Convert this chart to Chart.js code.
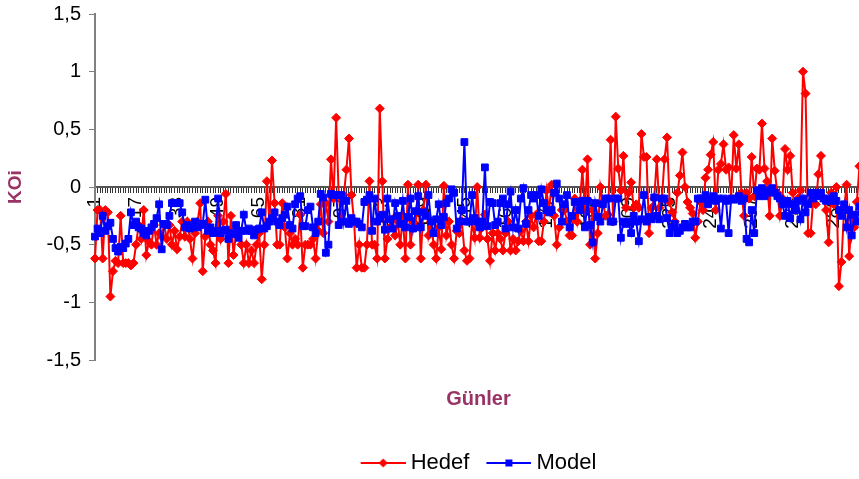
<!DOCTYPE html>
<html>
<head>
<meta charset="utf-8">
<script src="https://cdn.jsdelivr.net/npm/chart.js@4/dist/chart.umd.min.js"></script>
<style>
  html, body { margin: 0; padding: 0; background: #fff; overflow: hidden; }
  #wrap { width: 859px; height: 479px; overflow: hidden; }
  canvas { display: block; }
</style>
</head>
<body>
<div id="wrap"><canvas id="koi" width="960" height="479"></canvas></div>
<script>
// --- DATI ---
// gün numaraları 1..300
const gunler = [];
for (let g = 1; g <= 300; g++) gunler.push(String(g));

const hedef = [
  -0.62, -0.2, -0.2, -0.62, -0.2, -0.22, -0.95, -0.73, -0.64, -0.66,
  -0.25, -0.66, -0.66, -0.66, -0.68, -0.66, -0.5, -0.33, -0.45, -0.2,
  -0.59, -0.47, -0.5, -0.33, -0.5, -0.4, -0.43, -0.33, -0.45, -0.33,
  -0.5, -0.38, -0.54, -0.43, -0.3, -0.43, -0.3, -0.45, -0.62, -0.4,
  -0.3, -0.14, -0.73, -0.43, -0.3, -0.5, -0.55, -0.66, -0.25, -0.45,
  -0.3, -0.06, -0.66, -0.25, -0.59, -0.4, -0.38, -0.5, -0.66, -0.5,
  -0.66, -0.55, -0.66, -0.5, -0.4, -0.8, -0.5, 0.05, -0.3, 0.23,
  -0.14, -0.5, -0.5, -0.14, -0.35, -0.62, -0.4, -0.5, -0.45, -0.5,
  -0.24, -0.7, -0.5, -0.5, -0.5, -0.45, -0.62, -0.38, -0.15, -0.4,
  -0.14, -0.3, 0.24, -0.1, 0.6, -0.07, -0.3, -0.07, 0.15, 0.42,
  -0.07, -0.3, -0.7, -0.5, -0.7, -0.7, -0.5, 0.05, -0.5, -0.5,
  -0.62, 0.68, 0.05, -0.62, -0.45, -0.35, -0.28, -0.42, -0.3, -0.5,
  -0.25, -0.62, 0.02, -0.5, -0.3, -0.35, 0.02, -0.62, -0.2, 0.02,
  -0.42, -0.3, -0.5, -0.62, -0.35, -0.54, 0.01, -0.42, -0.3, -0.5,
  -0.62, -0.38, -0.4, -0.3, -0.55, -0.64, -0.62, -0.3, -0.44, 0,
  -0.44, -0.35, -0.24, -0.45, -0.64, -0.4, -0.55, -0.4, -0.45, -0.55,
  -0.4, -0.3, -0.55, -0.45, -0.55, -0.47, -0.38, -0.47, -0.3, -0.47,
  -0.25, -0.35, -0.24, -0.47, -0.47, -0.3, -0.03, -0.2, 0.02, -0.25,
  -0.5, -0.35, -0.2, -0.2, -0.3, -0.42, -0.42, -0.1, -0.3, -0.15,
  0.15, -0.2, 0.24, -0.5, -0.2, -0.62, -0.4, 0, -0.13, -0.25,
  -0.24, 0.41, -0.3, 0.61, 0.16, -0.03, 0.27, -0.18, -0.05, 0.04,
  -0.18, -0.15, -0.18, 0.46, 0.26, 0.26, -0.4, -0.18, -0.1, 0.24,
  -0.18, -0.1, 0.24, 0.43, -0.13, -0.22, -0.3, -0.05, 0.1, 0.3,
  0, -0.13, -0.18, -0.23, -0.44, -0.3, -0.13, -0.2, 0.08, 0.15,
  0.28, 0.39, -0.2, 0.15, 0.2, 0.37, 0.15, 0.17, -0.1, 0.45,
  0.16, 0.37, -0.05, -0.25, -0.05, -0.1, 0.26, -0.08, 0.16, 0.15,
  0.55, 0.16, 0.05, -0.25, 0.42, 0.14, -0.05, -0.25, -0.1, 0.33,
  0.15, 0.27, -0.05, -0.2, -0.1, -0.03, 1.0, 0.81, -0.4, -0.4,
  -0.1, -0.15, 0.11, 0.27, -0.1, -0.2, -0.48, -0.05, -0.15, 0,
  -0.86, -0.65, -0.2, 0.02, -0.6, -0.25, -0.35, -0.13, 0.18, -0.1
];

const model = [
  -0.43, -0.36, -0.4, -0.25, -0.38, -0.34, -0.31, -0.45, -0.53, -0.56,
  -0.52, -0.53, -0.49, -0.45, -0.22, -0.33, -0.3, -0.35, -0.36, -0.4,
  -0.42, -0.38, -0.35, -0.32, -0.27, -0.15, -0.54, -0.32, -0.33, -0.25,
  -0.14, -0.14, -0.14, -0.14, -0.22, -0.35, -0.33, -0.36, -0.35, -0.3,
  -0.35, -0.33, -0.32, -0.11, -0.38, -0.35, -0.4, -0.38, -0.1, -0.4,
  -0.38, -0.37, -0.45, -0.4, -0.41, -0.33, -0.44, -0.38, -0.24, -0.38,
  -0.36, -0.38, -0.42, -0.37, -0.36, -0.22, -0.36, -0.34, -0.3, -0.27,
  -0.22, -0.3, -0.33, -0.27, -0.24, -0.17, -0.33, -0.36, -0.15, -0.1,
  -0.08, -0.34, -0.34, -0.2, -0.17, -0.35, -0.4, -0.3, -0.06, -0.09,
  -0.57, -0.5, -0.06, -0.07, -0.07, -0.33, -0.07, -0.3, -0.12, -0.32,
  -0.27, -0.3, -0.3, -0.32, -0.35, -0.13, -0.11, -0.07, -0.38, -0.1,
  -0.3, -0.26, -0.24, -0.37, -0.1, -0.28, -0.36, -0.14, -0.25, -0.32,
  -0.12, -0.35, -0.26, -0.1, -0.36, -0.21, -0.08, -0.35, -0.22, -0.25,
  -0.07, -0.3, -0.4, -0.28, -0.15, -0.33, -0.26, -0.14, -0.1, -0.02,
  -0.05, -0.36, -0.3, -0.2, 0.39, -0.3, -0.3, -0.07, -0.27, -0.3,
  -0.35, -0.3, 0.17, -0.34, -0.13, -0.14, -0.33, -0.3, -0.14, -0.1,
  -0.36, -0.15, -0.04, -0.35, -0.2, -0.36, -0.1, -0.01, -0.32, -0.2,
  -0.07, -0.1, -0.07, -0.25, -0.02, -0.14, -0.2, -0.22, -0.2, -0.05,
  0.03, -0.1, -0.3, -0.15, -0.07, -0.35, -0.25, -0.13, -0.13, -0.2,
  -0.12, -0.35, -0.12, -0.33, -0.48, -0.14, -0.26, -0.3, -0.15, -0.1,
  -0.1, -0.3, -0.3, -0.1, -0.1, -0.44, -0.3, -0.32, -0.3, -0.4,
  -0.25, -0.3, -0.47, -0.28, -0.07, -0.3, -0.26, -0.28, -0.09, -0.25,
  -0.28, -0.1, -0.1, -0.27, -0.4, -0.35, -0.32, -0.4, -0.38, -0.35,
  -0.32, -0.35, -0.35, -0.3, -0.3, -0.1, -0.1, -0.1, -0.07, -0.15,
  -0.1, -0.08, -0.12, -0.1, -0.36, -0.1, -0.12, -0.4, -0.1, -0.11,
  -0.1, -0.08, -0.12, -0.1, -0.45, -0.48, -0.2, -0.4, -0.03, -0.08,
  -0.01, -0.08, -0.05, -0.03, -0.01, -0.05, -0.08, -0.1, -0.15, -0.25,
  -0.12, -0.27, -0.15, -0.2, -0.12, -0.28, -0.1, -0.22, -0.15, -0.05,
  -0.1, -0.05, -0.08, -0.05, -0.1, -0.12, -0.1, -0.12, -0.08, -0.12,
  -0.2, -0.25, -0.15, -0.35, -0.2, -0.42, -0.24, -0.3, -0.17, -0.3
];

const ETIKET_ADIMI = 16;
const YAZI = 'Liberation Sans, Arial, sans-serif';
const BORDO = '#993366';

// lejant için çizgi + işaret görüntüsü (çizgi sağa kaydırılmış)
function lejantIsareti(renk, sekil) {
  const c = document.createElement('canvas');
  c.width = 58; c.height = 12;
  const g = c.getContext('2d');
  g.strokeStyle = renk;
  g.lineWidth = 2;
  g.beginPath(); g.moveTo(13, 6); g.lineTo(58, 6); g.stroke();
  g.fillStyle = renk;
  g.beginPath();
  const m = 35.5;
  if (sekil === 'elmas') {
    g.moveTo(m, 1.5); g.lineTo(m + 4.5, 6); g.lineTo(m, 10.5); g.lineTo(m - 4.5, 6);
  } else {
    g.rect(m - 3.5, 2.5, 7, 7);
  }
  g.fill();
  return c;
}
const isaretler = [lejantIsareti('#ff0000', 'elmas'), lejantIsareti('#0000ff', 'kare')];

const virgul = v => String(Math.round(v * 10) / 10).replace('.', ',');

// lejantı grafik nesnesinin ortasına taşı
const lejantKaydir = {
  id: 'lejantKaydir',
  afterLayout(chart) {
    const l = chart.legend;
    if (!l) return;
    l.left += 44; l.right += 44;
    l.top += 5; l.bottom += 5;
  }
};

new Chart(document.getElementById('koi'), {
  type: 'line',
  data: {
    labels: gunler,
    datasets: [
      {
        label: 'Hedef', data: hedef, xAxisID: 'x',
        borderColor: '#ff0000', backgroundColor: '#ff0000',
        borderWidth: 2, pointStyle: 'rectRot', pointRadius: 4.5,
        pointBorderWidth: 1, order: 1
      },
      {
        label: 'Model', data: model, xAxisID: 'x',
        borderColor: '#0000ff', backgroundColor: '#0000ff',
        borderWidth: 2, pointStyle: 'rect', pointRadius: 4.8,
        pointBorderWidth: 1, order: 0
      }
    ]
  },
  plugins: [lejantKaydir],
  options: {
    responsive: false,
    animation: false,
    layout: { padding: { top: 14, right: 98, left: 0, bottom: 0 } },
    plugins: {
      tooltip: { enabled: false },
      legend: {
        position: 'bottom',
        labels: {
          usePointStyle: true,
          pointStyleWidth: 46,
          padding: 10,
          color: '#000',
          font: { family: YAZI, size: 22 },
          generateLabels: chart => chart.data.datasets.map((ds, i) => ({
            text: ds.label, datasetIndex: i, pointStyle: isaretler[i],
            hidden: false, lineWidth: 0, fillStyle: 'transparent', strokeStyle: 'transparent'
          }))
        }
      }
    },
    scales: {
      x: {
        type: 'category',
        position: { y: 0 },
        grid: { drawOnChartArea: false, tickLength: 5, color: '#333' },
        border: { color: '#555', width: 2 },
        ticks: {
          autoSkip: false, minRotation: 90, maxRotation: 90, padding: 5,
          color: '#000', font: { family: YAZI, size: 19 },
          callback: (v, i) => (i % ETIKET_ADIMI === 0 ? gunler[i] : '')
        }
      },
      x2: {
        type: 'category',
        position: 'bottom',
        grid: { display: false, drawTicks: false },
        border: { display: false },
        ticks: { display: false },
        title: {
          display: true, text: 'Günler', color: BORDO,
          font: { family: YAZI, size: 20, weight: 'bold' },
          padding: { top: 27, bottom: 26 }
        }
      },
      y: {
        min: -1.5, max: 1.5,
        afterFit: s => { s.width = 95; s.paddingTop = 0; s.paddingBottom = 0; },
        grid: { drawOnChartArea: false, tickLength: 6, color: '#808080' },
        border: { color: '#808080', width: 2 },
        ticks: {
          stepSize: 0.5, padding: 8, color: '#000',
          font: { family: YAZI, size: 20 },
          callback: v => virgul(v)
        },
        title: {
          display: true, text: 'KOi', color: BORDO,
          font: { family: YAZI, size: 19, weight: 'bold' },
          padding: 4
        }
      }
    }
  }
});
</script>
</body>
</html>
